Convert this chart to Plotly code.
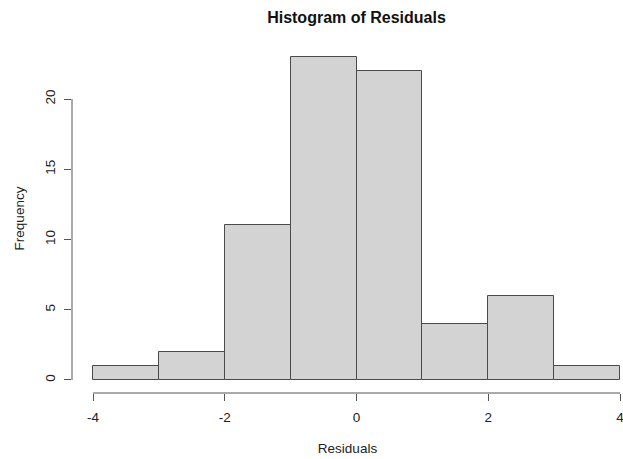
import plotly.graph_objects as go

# Histogram bins (unit width) and observed counts of residuals
breaks = [-4, -3, -2, -1, 0, 1, 2, 3, 4]
counts = [1, 2, 11, 23, 22, 4, 6, 1]
x_ticks = [-4, -2, 0, 2, 4]
y_ticks = [0, 5, 10, 15, 20]

mids = [(a + b) / 2 for a, b in zip(breaks[:-1], breaks[1:])]
widths = [b - a for a, b in zip(breaks[:-1], breaks[1:])]

W, H = 623, 459
L, R, T, B = 72, 0, 44, 66
FONT = "Liberation Sans, Arial, Helvetica, sans-serif"
AX = "#555555"

fig = go.Figure()
fig.add_trace(go.Bar(
    x=mids, y=counts, width=widths,
    marker=dict(color="#D3D3D3", line=dict(color="#4a4a4a", width=1)),
    hoverinfo="x+y",
))

# R-style detached axis lines spanning first to last tick
fig.add_shape(type="line", xref="x", yref="paper",
              x0=x_ticks[0], x1=x_ticks[-1], y0=0, y1=0,
              line=dict(color=AX, width=1))
fig.add_shape(type="line", xref="paper", yref="y",
              x0=0, x1=0, y0=y_ticks[0], y1=y_ticks[-1],
              line=dict(color=AX, width=1))

fig.update_layout(
    width=W, height=H,
    margin=dict(l=L, r=R, t=T, b=B, pad=0),
    paper_bgcolor="white", plot_bgcolor="white",
    showlegend=False, bargap=0,
    font=dict(family=FONT, size=13.5, color="#222222"),
    title=dict(text="<b>Histogram of Residuals</b>",
               x=(356.5 - L) / (W - L - R), xref="paper", xanchor="center",
               y=1 - 17 / H, yref="container", yanchor="middle",
               font=dict(family=FONT, size=16, color="#111111")),
    xaxis=dict(range=[-4.319, 4.0455], showgrid=False, zeroline=False,
               showline=False, ticks="outside", ticklen=7, tickwidth=1,
               tickcolor=AX, tickvals=x_ticks,
               ticktext=[str(v) for v in x_ticks],
               ticklabelstandoff=5, ticklabeloverflow="allow",
               title=dict(text="Residuals", standoff=19,
                          font=dict(size=13.5))),
    yaxis=dict(range=[-0.926, 23.92], showgrid=False, zeroline=False,
               showline=False, ticks="outside", ticklen=7, tickwidth=1,
               tickcolor=AX, tickvals=y_ticks,
               ticktext=[str(v) for v in y_ticks],
               tickangle=-90, ticklabelstandoff=4,
               title=dict(text="Frequency", standoff=14,
                          font=dict(size=13.5))),
)

fig.write_html("out.html")
